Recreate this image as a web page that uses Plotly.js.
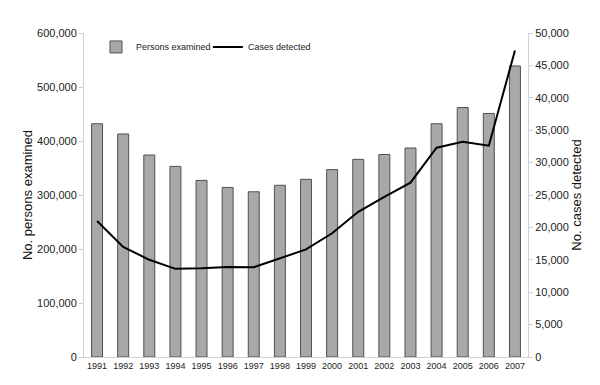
<!DOCTYPE html>
<html>
<head>
<meta charset="utf-8">
<script src="https://cdn.plot.ly/plotly-3.0.1.min.js"></script>
<style>html,body{margin:0;padding:0;background:#fff}#chart{width:600px;height:385px}</style>
</head>
<body>
<div id="chart"></div>
<script>
var years = ['1991','1992','1993','1994','1995','1996','1997','1998','1999','2000','2001','2002','2003','2004','2005','2006','2007'];
var personsExamined = [432000,413000,374000,353000,327000,314000,306000,318000,329000,347000,366000,375000,387000,432000,462000,451000,539000];
var casesDetected = [21000,17000,15000,13600,13700,13900,13850,15200,16600,19100,22400,24700,26900,32300,33200,32600,47300];

var traces = [
  {
    type: 'bar', name: 'Persons examined', x: years, y: personsExamined,
    marker: {color: '#a8a8a8', line: {color: '#505050', width: 1}},
    width: 0.42, yaxis: 'y', legend: 'legend'
  },
  {
    type: 'scatter', mode: 'lines', name: 'Cases detected', x: years, y: casesDetected,
    line: {color: '#000000', width: 2}, yaxis: 'y2', legend: 'legend2'
  }
];

var legFont = {family: 'Liberation Sans, Arial, sans-serif', size: 9, color: '#222'};
var tickFont = {family: 'Liberation Sans, Arial, sans-serif', size: 11, color: '#222'};
var layout = {
  width: 600, height: 385,
  margin: {l: 84, r: 72, t: 33, b: 28},
  paper_bgcolor: '#fff', plot_bgcolor: '#fff',
  showlegend: true,
  legend: {orientation: 'h', x: 0.027, y: 0.957, xanchor: 'left', yanchor: 'middle',
    font: legFont, bgcolor: 'rgba(0,0,0,0)'},
  legend2: {orientation: 'h', x: 0.279, y: 0.957, xanchor: 'left', yanchor: 'middle',
    font: legFont, bgcolor: 'rgba(0,0,0,0)'},
  bargap: 0.58,
  xaxis: {
    type: 'category', showgrid: false, showline: true, linecolor: '#d0d0d0', linewidth: 1,
    ticks: '', tickfont: {family: 'Liberation Sans, Arial, sans-serif', size: 9, color: '#222'},
    zeroline: false
  },
  yaxis: {
    range: [0, 600000], tickvals: [0,100000,200000,300000,400000,500000,600000],
    ticktext: ['0','100,000','200,000','300,000','400,000','500,000','600,000'],
    showgrid: false, zeroline: false, showline: true, linecolor: '#d0d0d0', linewidth: 1,
    ticks: 'outside', ticklen: 4, tickcolor: '#d0d0d0', tickfont: tickFont,
    title: {text: 'No. persons examined', font: {family: 'Liberation Sans, Arial, sans-serif', size: 13, color: '#111'}, standoff: 1}
  },
  yaxis2: {
    overlaying: 'y', side: 'right', range: [0, 50000],
    tickvals: [0,5000,10000,15000,20000,25000,30000,35000,40000,45000,50000],
    ticktext: ['0','5,000','10,000','15,000','20,000','25,000','30,000','35,000','40,000','45,000','50,000'],
    showgrid: false, zeroline: false, showline: true, linecolor: '#d0d0d0', linewidth: 1,
    ticks: 'outside', ticklen: 4, tickcolor: '#d0d0d0', tickfont: tickFont,
    title: {text: 'No. cases detected', font: {family: 'Liberation Sans, Arial, sans-serif', size: 13, color: '#111'}, standoff: 3}
  }
};
Plotly.newPlot('chart', traces, layout, {displayModeBar: false, staticPlot: true});
</script>
</body>
</html>
